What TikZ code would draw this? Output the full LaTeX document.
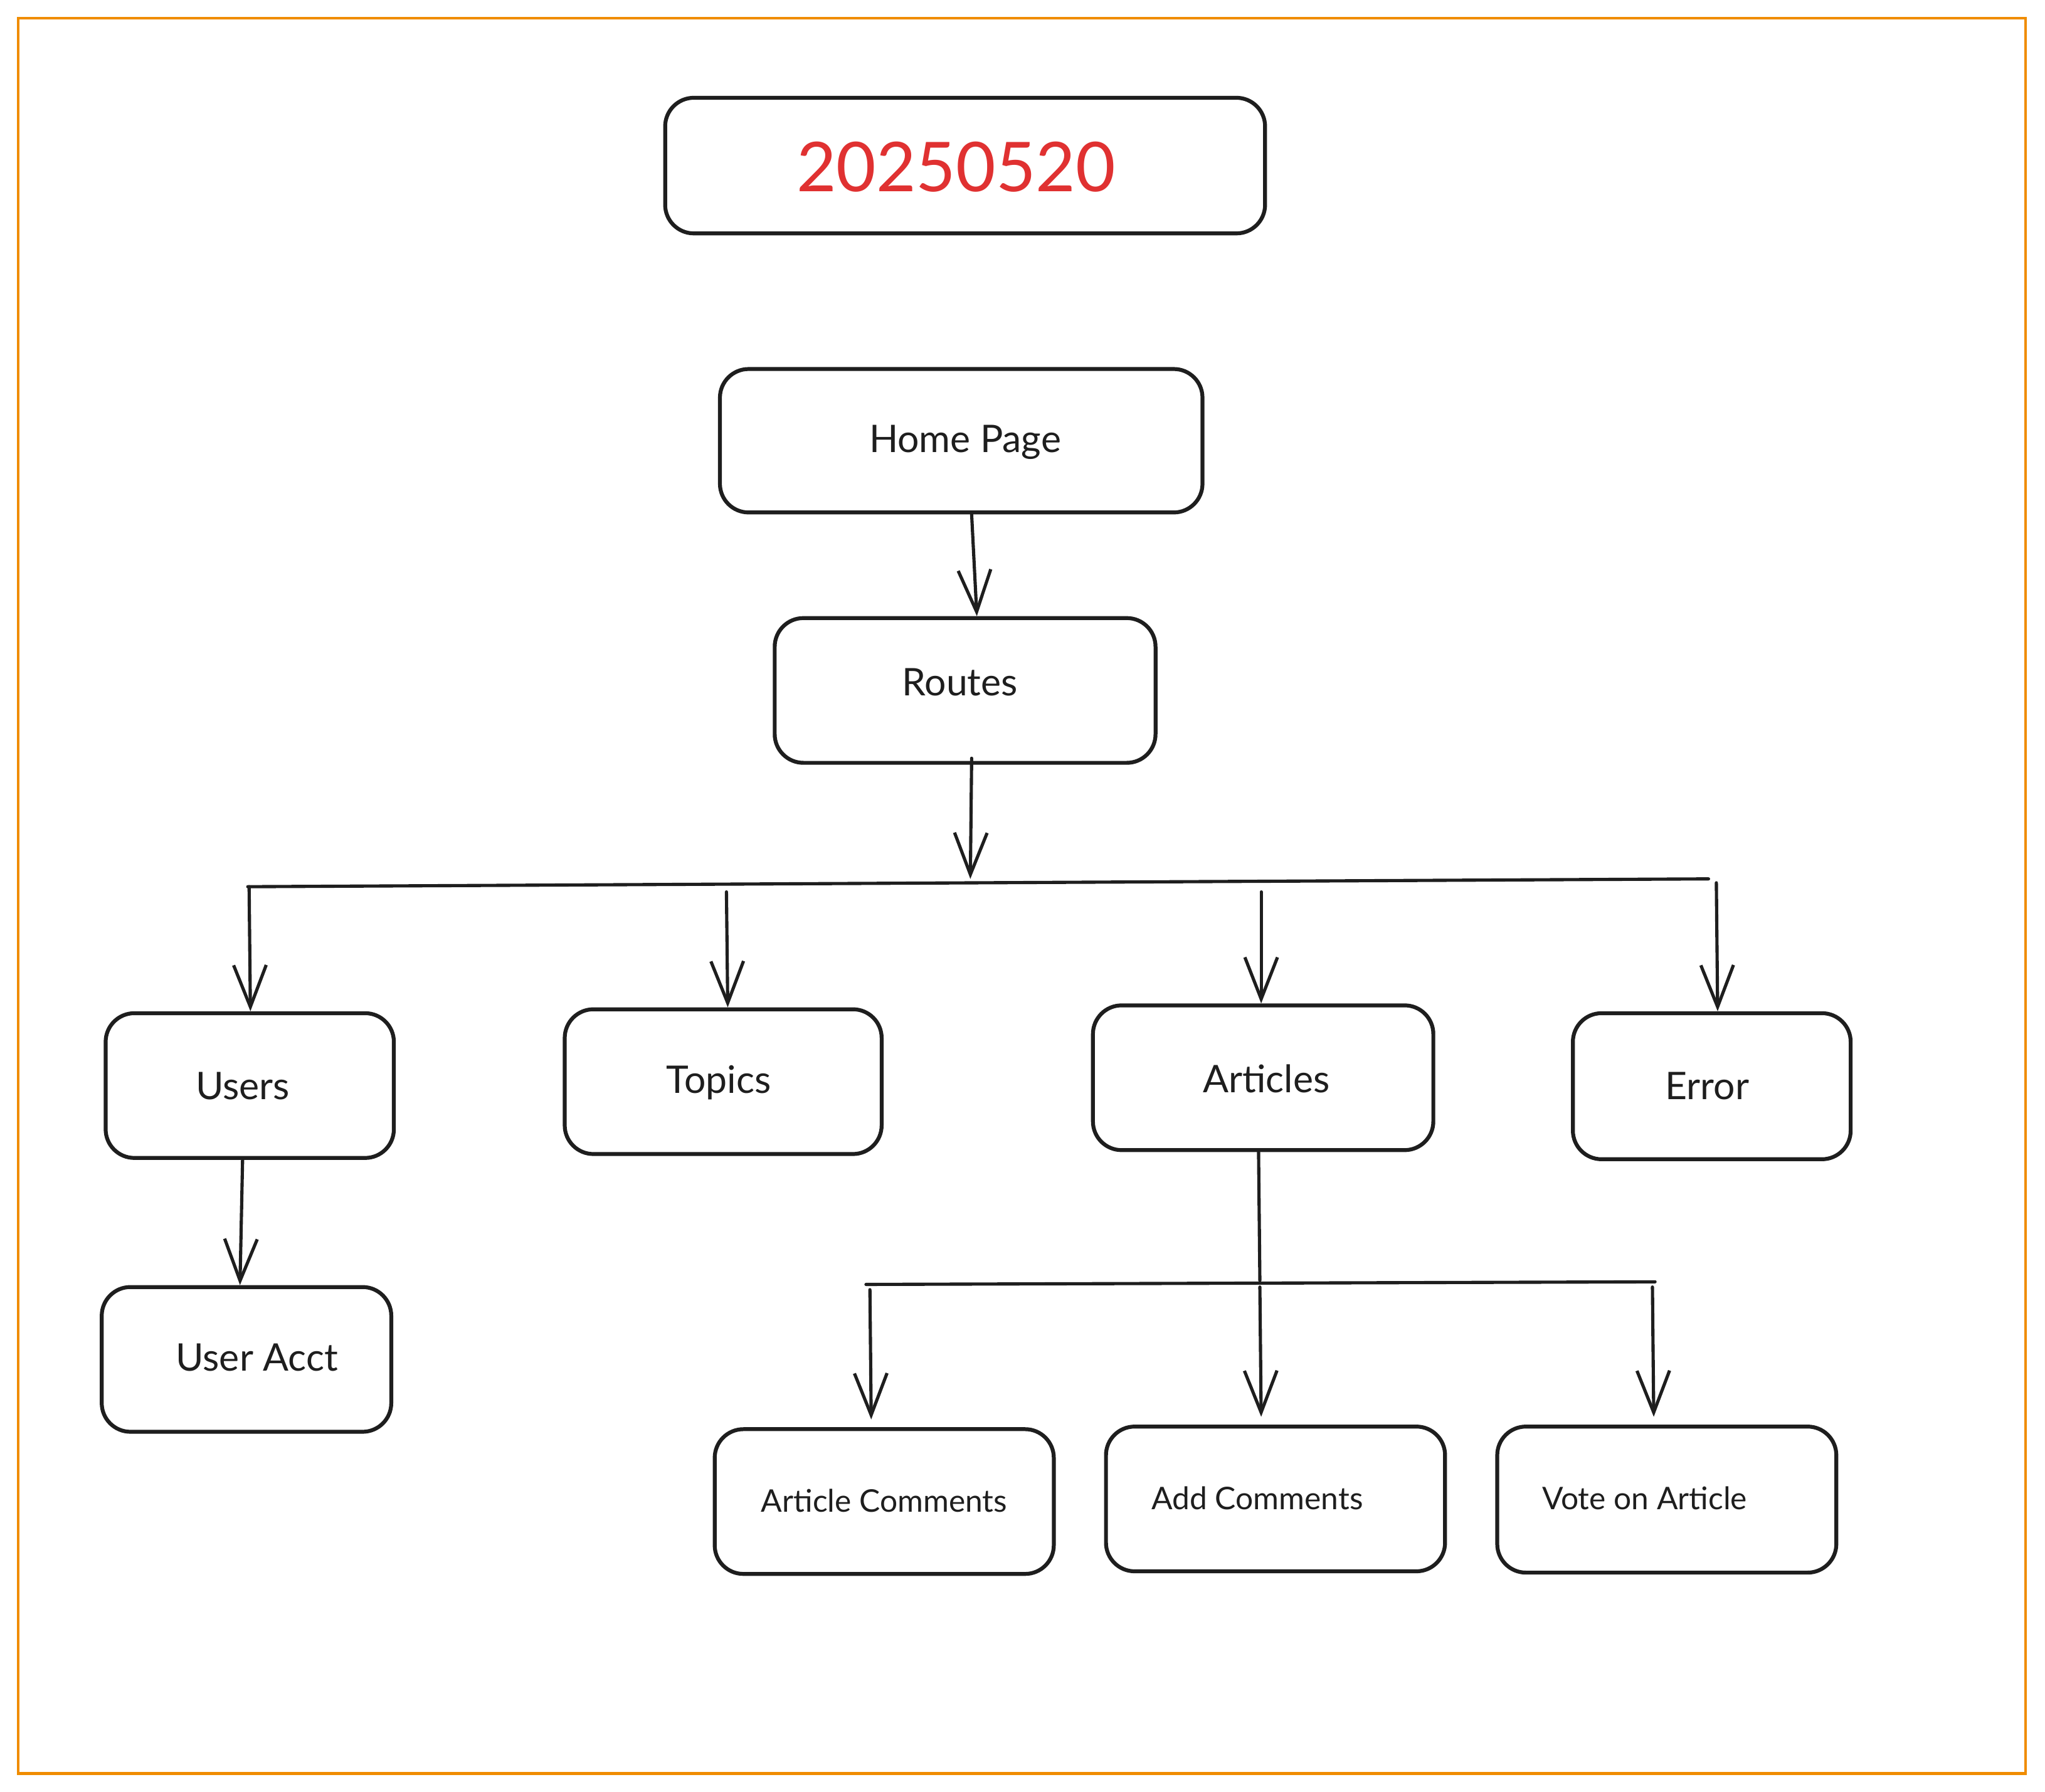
\documentclass[tikz,border=0pt]{standalone}
\usepackage{fontspec}
\setmainfont{Lato}
\usetikzlibrary{arrows.meta,fit,calc}
\definecolor{ink}{HTML}{1E1E1E}
\definecolor{frameor}{HTML}{F08C00}
\definecolor{titlered}{HTML}{E03131}
\tikzset{
  box/.style={draw=ink, line width=0.85pt, rounded corners=2.2mm, inner sep=0pt, fill=white},
  lbl/.style={text=ink, font=\fontsize{8.3pt}{10pt}\selectfont, inner sep=0pt},
  slbl/.style={text=ink, font=\fontsize{6.8pt}{8pt}\selectfont, inner sep=0pt},
  conn/.style={draw=ink, line width=0.7pt, line cap=round},
  arr/.style={conn, -{Straight Barb[length=3.2mm,width=2.5mm,line width=0.7pt]}},
}
\begin{document}
\begin{tikzpicture}[x=0.1mm,y=-0.1mm]
\useasboundingbox (0,0) rectangle (1568,1374);
\fill[white] (0,0) rectangle (1568,1374);
\draw[frameor, line width=0.6pt] (14,14) rectangle (1553,1360);

% title
\node[box, fit={(510,75) (970,179)}] (title) {};
\node[text=titlered, font=\fontsize{15pt}{18pt}\selectfont, inner sep=0pt] (titletxt) at (733,128) {20250520};

% boxes
\node[box, fit={(552,283) (922,393)}] (hp) {};
\node[lbl] (hptxt) at (740,339) {Home Page};
\node[box, fit={(594,474) (886,585)}] (rt) {};
\node[lbl] (rttxt) at (736,523) {Routes};

\node[box, fit={(81,777) (302,888)}] (us) {};
\node[lbl] (ustxt) at (186,833) {Users};
\node[box, fit={(433,774) (676,885)}] (tp) {};
\node[lbl] (tptxt) at (551,830) {Topics};
\node[box, fit={(838,771) (1099,882)}] (ar) {};
\node[lbl] (artxt) at (971,827) {Articles};
\node[box, fit={(1206,777) (1419,889)}] (er) {};
\node[lbl] (ertxt) at (1309,833) {Error};

\node[box, fit={(78,987) (300,1098)}] (ua) {};
\node[lbl] (uatxt) at (197,1041) {User Acct};

\node[box, fit={(548,1096) (808,1207)}] (ac) {};
\node[slbl] (actxt) at (678,1151) {Article Comments};
\node[box, fit={(848,1094) (1108,1205)}] (ad) {};
\node[slbl] (adtxt) at (964,1149) {Add Comments};
\node[box, fit={(1148,1094) (1408,1206)}] (vo) {};
\node[slbl] (votxt) at (1261,1149) {Vote on Article};

% bus coordinates
\coordinate (b1L) at (190,680);
\coordinate (b1R) at (1310,674);
\coordinate (b1M) at (744,674);
\coordinate (b1u) at (191,680);
\coordinate (b1t) at (557,684);
\coordinate (b1a) at (967,684);
\coordinate (b1e) at (1316,677);
\coordinate (b2L) at (664,985);
\coordinate (b2R) at (1269,983);
\coordinate (b2M) at (966,982);
\coordinate (b2c) at (667,989);
\coordinate (b2d) at (966,987);
\coordinate (b2v) at (1267,987);

% connectors
\draw[arr] ([xshift=0.8mm]hp.south) -- ([xshift=0.9mm]rt.north);
\draw[arr] ([xshift=0.5mm,yshift=0.5mm]rt.south) -- (b1M);
\draw[conn] (b1L) -- (b1R);
\draw[arr] (b1u) -- (us.north -| 192,0);
\draw[arr] (b1t) -- (tp.north -| 558,0);
\draw[arr] (b1a) -- (ar.north -| 967,0);
\draw[arr] (b1e) -- (er.north -| 1317,0);
\draw[arr] (us.south -| 186,0) -- (ua.north -| 184,0);
\draw[conn] (ar.south -| 965,0) -- (b2M);
\draw[conn] (b2L) -- (b2R);
\draw[arr] (b2c) -- ([yshift=0.6mm]ac.north -| 668,0);
\draw[arr] (b2d) -- ([yshift=0.6mm]ad.north -| 967,0);
\draw[arr] (b2v) -- ([yshift=0.6mm]vo.north -| 1268,0);
\end{tikzpicture}
\end{document}
